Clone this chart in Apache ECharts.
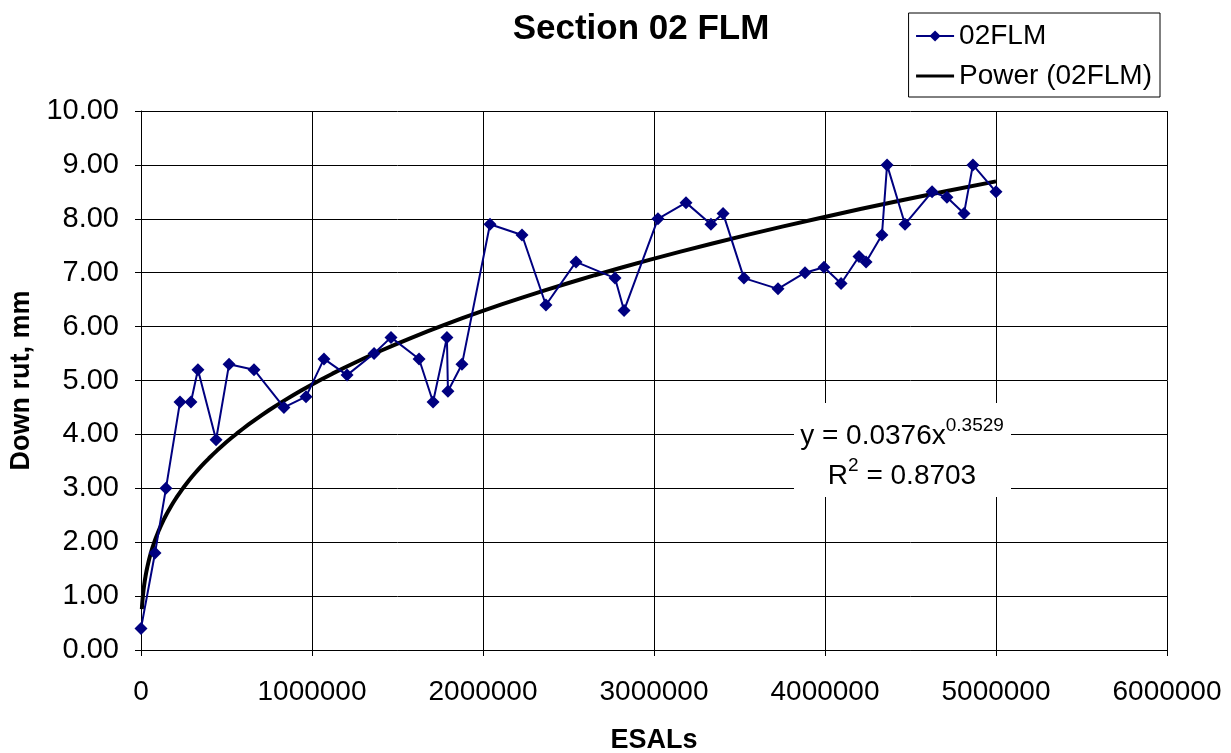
<!DOCTYPE html>
<html lang="en">
<head>
    <meta charset="UTF-8">
    <title>Section 02 FLM</title>
    <script src="https://cdn.jsdelivr.net/npm/echarts@6/dist/echarts.min.js"></script>
    <style>
        html, body { margin: 0; padding: 0; background: #fff; }
        #main { width: 1231px; height: 753px; }
    </style>
</head>
<body>
    <div id="main"></div>
<script type="text/javascript">
    // measured points (ESALs, down rut mm)
    var esals = [0, 82000, 146000, 228000, 292000, 333000, 439000, 515000, 661000, 836000,
        965000, 1070000, 1205000, 1363000, 1462000, 1626000, 1708000, 1789000, 1795000, 1877000,
        2041000, 2228000, 2368000, 2544000, 2772000, 2825000, 3023000, 3187000, 3333000, 3404000,
        3526000, 3725000, 3883000, 3994000, 4094000, 4199000, 4240000, 4333000, 4363000, 4468000,
        4626000, 4713000, 4813000, 4865000, 5000000];
    var rut = [0.4, 1.8, 3.0, 4.6, 4.6, 5.2, 3.9, 5.3, 5.2, 4.5,
        4.7, 5.4, 5.1, 5.5, 5.8, 5.4, 4.6, 5.8, 4.8, 5.3,
        7.9, 7.7, 6.4, 7.2, 6.9, 6.3, 8.0, 8.3, 7.9, 8.1,
        6.9, 6.7, 7.0, 7.1, 6.8, 7.3, 7.2, 7.7, 9.0, 7.9,
        8.5, 8.4, 8.1, 9.0, 8.5];

    // trendline coefficients as printed on the chart
    var powA = 0.0376;
    var powB = 0.3529;
    var rSquared = '0.8703';

    var yTicks = [0, 1, 2, 3, 4, 5, 6, 7, 8, 9, 10];
    var xTicks = [0, 1000000, 2000000, 3000000, 4000000, 5000000, 6000000];

    var points = esals.map(function (x, i) { return [x, rut[i]]; });

    // power curve y = a*x^b from 5000 to the last x
    var trend = [];
    var xStart = 5000, xEnd = esals[esals.length - 1];
    for (var k = 0; k <= 120; k++) {
        var x = xStart * Math.pow(xEnd / xStart, k / 120);
        trend.push([x, powA * Math.pow(x, powB)]);
    }

    var font = 'Liberation Sans, Arial, sans-serif';
    var chart = echarts.init(document.getElementById('main'));

    var option = {
        backgroundColor: '#fff',
        animation: false,
        textStyle: { fontFamily: font, color: '#000' },
        title: {
            text: 'Section 02 FLM',
            left: 636,
            top: 7,
            textAlign: 'center',
            textStyle: { fontFamily: font, fontSize: 35, fontWeight: 'bold', color: '#000' }
        },
        legend: {
            orient: 'vertical',
            right: 71,
            top: 13,
            padding: [9, 8, 7, 6],
            itemGap: 12,
            itemWidth: 38,
            itemHeight: 14,
            borderColor: '#000',
            borderWidth: 1,
            borderRadius: 0,
            textStyle: { fontFamily: font, fontSize: 28, color: '#000' },
            data: [
                { name: '02FLM' },
                { name: 'Power (02FLM)', itemStyle: { opacity: 0 }, lineStyle: { width: 3 } }
            ]
        },
        grid: { left: 141, right: 64, top: 111, bottom: 103, containLabel: false, outerBoundsMode: 'none' },
        xAxis: {
            type: 'value',
            min: xTicks[0],
            max: xTicks[xTicks.length - 1],
            interval: 1000000,
            name: 'ESALs',
            nameLocation: 'middle',
            nameGap: 77,
            nameTextStyle: { fontFamily: font, fontSize: 27, fontWeight: 'bold', color: '#000' },
            axisLine: { lineStyle: { color: '#000', width: 1 } },
            axisTick: { show: true, length: 6, lineStyle: { color: '#000' } },
            axisLabel: {
                fontFamily: font, fontSize: 28, color: '#000', margin: 28,
                formatter: function (v) { return String(v); }
            },
            splitLine: { show: true, lineStyle: { color: '#000', width: 1 } }
        },
        yAxis: {
            type: 'value',
            min: yTicks[0],
            max: yTicks[yTicks.length - 1],
            interval: 1,
            name: 'Down rut, mm',
            nameLocation: 'middle',
            nameGap: 104,
            nameRotate: 90,
            nameTextStyle: { fontFamily: font, fontSize: 27, fontWeight: 'bold', color: '#000' },
            axisLine: { show: true, lineStyle: { color: '#000', width: 1 } },
            axisTick: { show: true, length: 6, lineStyle: { color: '#000' } },
            axisLabel: {
                fontFamily: font, fontSize: 29, color: '#000', margin: 22,
                formatter: function (v) { return v.toFixed(2); }
            },
            splitLine: { show: true, lineStyle: { color: '#000', width: 1 } }
        },
        graphic: [{
            type: 'rect',
            left: 794,
            top: 403,
            z: 100,
            shape: { width: 217, height: 94 },
            style: { fill: '#fff' }
        }, {
            type: 'text',
            x: 902,
            y: 410,
            z: 101,
            style: {
                text: '{a|y = ' + powA + 'x}{s|' + powB + '}\n{a|R}{s|2}{a| = ' + rSquared + '}',
                align: 'center',
                fill: '#000',
                rich: {
                    a: { fontFamily: font, fontSize: 28, lineHeight: 40, verticalAlign: 'bottom' },
                    s: { fontFamily: font, fontSize: 19, lineHeight: 40, verticalAlign: 'top', padding: [6, 0, 0, 0] }
                }
            }
        }],
        series: [{
            name: '02FLM',
            type: 'line',
            data: points,
            symbol: 'diamond',
            symbolSize: 13,
            lineStyle: { color: '#000080', width: 2 },
            itemStyle: { color: '#000080' },
            z: 3
        }, {
            name: 'Power (02FLM)',
            type: 'line',
            data: trend,
            showSymbol: false,
            symbol: 'none',
            lineStyle: { color: '#000', width: 4 },
            itemStyle: { color: '#000' },
            z: 2
        }]
    };

    chart.setOption(option);
</script>
</body>
</html>
